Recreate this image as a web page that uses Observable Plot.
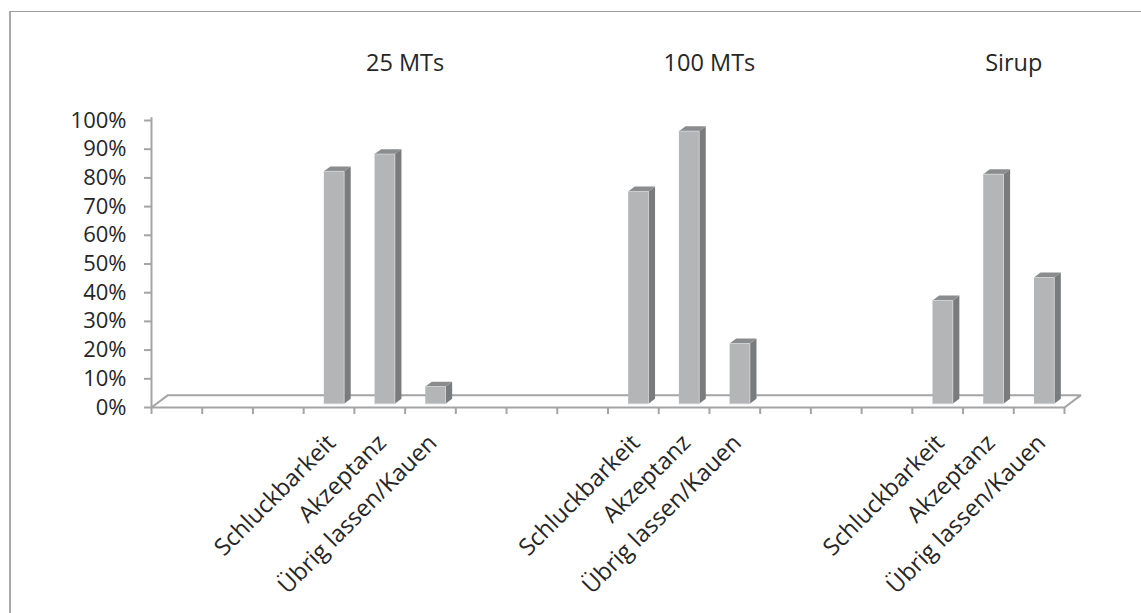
<!DOCTYPE html>
<html>
<head>
<meta charset="utf-8">
<script src="https://cdn.jsdelivr.net/npm/d3@7"></script>
<script src="https://cdn.jsdelivr.net/npm/@observablehq/plot@0.6"></script>
<style>
  html, body { margin: 0; padding: 0; background: #fff; }
  #wrap { position: relative; width: 1141px; height: 613px; overflow: hidden; }
  #frame {
    position: absolute; left: 9px; top: 11px; right: -4px; bottom: -4px;
    border-left: 2.5px solid #a9a9a9; border-top: 1.5px solid #9c9c9c;
  }
  #chart { position: absolute; left: 0; top: 0; }
</style>
</head>
<body>
<div id="wrap"><div id="frame"></div><div id="chart"></div></div>
<script>
// Survey results per dosage form (share of children)
const groups = ["25 MTs", "100 MTs", "Sirup"];
const criteria = ["Schluckbarkeit", "Akzeptanz", "Übrig lassen/Kauen"];
const mts25 = [0.81, 0.87, 0.06];
const mts100 = [0.74, 0.95, 0.21];
const sirup = [0.36, 0.80, 0.44];
const yTicks = [0, 0.1, 0.2, 0.3, 0.4, 0.5, 0.6, 0.7, 0.8, 0.9, 1.0];

const seriesValues = [mts25, mts100, sirup];
const blankSlots = 3;                       // empty categories before each group's bars
const slotsPerGroup = blankSlots + criteria.length;
const slotCount = groups.length * slotsPerGroup;

// Bars placed in category slots
const bars = [];
groups.forEach((g, gi) => {
  criteria.forEach((c, ci) => {
    bars.push({group: g, criterion: c, slot: gi * slotsPerGroup + blankSlots + ci, value: seriesValues[gi][ci]});
  });
});

// Oblique projection of the floor depth into the x (slot) / y (value) plane
const depthX = 0.325, depthY = 0.043;
const proj = (x, v, z) => ({x: x + z * depthX, y: v + z * depthY});

// Bar geometry within a slot: width and depth fractions
const bx0 = 0.3, bx1 = 0.7, bz0 = 0.3, bz1 = 0.7;
const frontFaces = [], sideFaces = [], topFaces = [];
bars.forEach((b, i) => {
  const s = b.slot, v = b.value;
  [[s + bx0, 0, bz0], [s + bx1, 0, bz0], [s + bx1, v, bz0], [s + bx0, v, bz0]]
    .forEach(p => frontFaces.push({id: i, ...proj(...p)}));
  [[s + bx1, 0, bz0], [s + bx1, 0, bz1], [s + bx1, v, bz1], [s + bx1, v, bz0]]
    .forEach(p => sideFaces.push({id: i, ...proj(...p)}));
  [[s + bx0, v, bz0], [s + bx1, v, bz0], [s + bx1, v, bz1], [s + bx0, v, bz1]]
    .forEach(p => topFaces.push({id: i, ...proj(...p)}));
});

// Floor outline (back part drawn behind the bars)
const floorBack = [[0, 0, 0], [0, 0, 1], [slotCount, 0, 1], [slotCount, 0, 0]].map(p => proj(...p));
const floorFront = [[0, 0, 0], [slotCount, 0, 0]].map(p => proj(...p));
const slotEdges = d3.range(slotCount + 1);

const labels = bars.map(b => ({slot: b.slot + 0.5, text: b.criterion}));
const titles = groups.map((g, gi) => ({x: gi * slotsPerGroup + blankSlots + criteria.length / 2 + 0.5, text: g}));

const axisGrey = "#a4a4a4";
const ink = "#262626";

const chart = Plot.plot({
  width: 1141,
  height: 613,
  marginLeft: 151,
  marginRight: 77,
  marginTop: 120,
  marginBottom: 206,
  style: {fontFamily: "'Open Sans', sans-serif", fontSize: "22px", color: ink, background: "transparent", overflow: "visible"},
  x: {type: "linear", domain: [0, slotCount], axis: null},
  y: {domain: [0, 1], axis: null},
  marks: [
    Plot.line(floorBack, {x: "x", y: "y", stroke: axisGrey, strokeWidth: 2, strokeLinecap: "butt", strokeLinejoin: "miter"}),
    Plot.line(sideFaces, {x: "x", y: "y", z: "id", fill: "#7a7b7d", stroke: "none"}),
    Plot.line(topFaces, {x: "x", y: "y", z: "id", fill: "#8b8c8e", stroke: "none"}),
    Plot.line(frontFaces, {x: "x", y: "y", z: "id", fill: "#b4b5b7", stroke: "#d4d4d6", strokeWidth: 0.8}),
    Plot.line(floorFront, {x: "x", y: "y", stroke: axisGrey, strokeWidth: 2, strokeLinecap: "butt"}),
    Plot.ruleX([0], {y1: 0, y2: 1.01, stroke: axisGrey, strokeWidth: 2}),
    Plot.axisX({ticks: slotEdges, tickSize: 7, tickFormat: () => "", label: null, stroke: axisGrey, strokeWidth: 2}),
    Plot.axisY({ticks: yTicks, tickFormat: d3.format(".0%"), label: null, tickSize: 7, tickPadding: 18, stroke: axisGrey, strokeWidth: 2, fill: ink, fontSize: 22}),
    Plot.text(labels, {x: "slot", y: 0, text: "text", rotate: -45, textAnchor: "end", lineAnchor: "top", dx: -4, dy: 25, fill: ink, fontSize: 23.5}),
    Plot.text(titles, {x: "x", text: "text", frameAnchor: "top", dy: -57, lineAnchor: "middle", fill: ink, fontSize: 23.5})
  ]
});
document.getElementById("chart").appendChild(chart);
</script>
</body>
</html>
